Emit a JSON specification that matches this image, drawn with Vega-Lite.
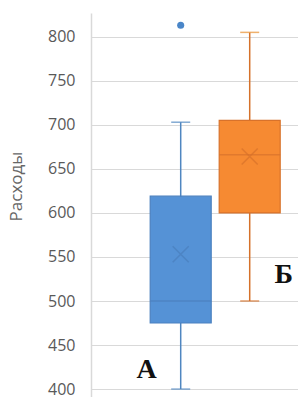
{
  "$schema": "https://vega.github.io/schema/vega-lite/v6.json",
  "autosize": {"type": "none"},
  "padding": {"left": 91, "top": 13, "right": 0, "bottom": 0},
  "width": 207,
  "height": 384,
  "background": "white",
  "config": {"view": {"stroke": null}},
  "datasets": {
    "stats": [
      {"group": "А", "lower": 400, "q1": 475, "median": 500, "q3": 619, "upper": 703, "mean": 553},
      {"group": "Б", "lower": 500, "q1": 600, "median": 666, "q3": 705, "upper": 805, "mean": 664}
    ],
    "outliers": [
      {"group": "А", "value": 813}
    ]
  },
  "data": {"name": "stats"},
  "encoding": {
    "x": {"field": "group", "type": "nominal", "axis": null,
          "scale": {"type": "point", "domain": ["А", "Б"], "padding": 1.045, "align": 0.65}}
  },
  "resolve": {"scale": {"color": "independent"}},
  "layer": [
    {
      "mark": {"type": "rule", "strokeWidth": 1.5},
      "encoding": {
        "y": {"field": "lower", "type": "quantitative",
              "scale": {"domain": [391, 827], "nice": false, "zero": false},
              "axis": {
                "values": [400, 450, 500, 550, 600, 650, 700, 750, 800],
                "ticks": false, "labelPadding": 16,
                "labelFont": "Open Sans", "labelFontSize": 16, "labelColor": "#595959",
                "domainColor": "#d9d9d9", "domainWidth": 1.5,
                "gridColor": "#d9d9d9", "gridWidth": 1.2,
                "title": "Расходы", "titleFont": "Open Sans", "titleFontSize": 17,
                "titleFontWeight": "normal", "titleColor": "#666666",
                "titleAlign": "center", "titleBaseline": "bottom",
                "titleX": -66, "titleY": 173
              }},
        "y2": {"field": "upper"},
        "color": {"field": "group", "type": "nominal", "legend": null,
                  "scale": {"domain": ["А", "Б"], "range": ["#4f86c0", "#d5712a"]}}
      }
    },
    {
      "mark": {"type": "tick", "thickness": 1.5, "size": 19},
      "encoding": {
        "y": {"field": "lower", "type": "quantitative"},
        "color": {"field": "group", "type": "nominal", "legend": null,
                  "scale": {"domain": ["А", "Б"], "range": ["#4f86c0", "#d5712a"]}}
      }
    },
    {
      "mark": {"type": "tick", "thickness": 1.5, "size": 19},
      "encoding": {
        "y": {"field": "upper", "type": "quantitative"},
        "color": {"field": "group", "type": "nominal", "legend": null,
                  "scale": {"domain": ["А", "Б"], "range": ["#4f86c0", "#e8902f"]}}
      }
    },
    {
      "mark": {"type": "bar", "width": 61, "strokeWidth": 1.2},
      "encoding": {
        "y": {"field": "q1", "type": "quantitative"},
        "y2": {"field": "q3"},
        "color": {"field": "group", "type": "nominal", "legend": null,
                  "scale": {"domain": ["А", "Б"], "range": ["#5592d6", "#f68a32"]}},
        "stroke": {"field": "group", "type": "nominal", "legend": null,
                   "scale": {"domain": ["А", "Б"], "range": ["#4a80bf", "#d8722b"]}}
      }
    },
    {
      "mark": {"type": "tick", "thickness": 1.5, "size": 61},
      "encoding": {
        "y": {"field": "median", "type": "quantitative"},
        "color": {"field": "group", "type": "nominal", "legend": null,
                  "scale": {"domain": ["А", "Б"], "range": ["#4a7fbd", "#d8722b"]}}
      }
    },
    {
      "mark": {"type": "point", "shape": "M-1,-1L1,1M1,-1L-1,1", "size": 256, "filled": false, "strokeWidth": 1.5},
      "encoding": {
        "y": {"field": "mean", "type": "quantitative"},
        "color": {"field": "group", "type": "nominal", "legend": null,
                  "scale": {"domain": ["А", "Б"], "range": ["#4a7fbd", "#d8722b"]}}
      }
    },
    {
      "data": {"name": "outliers"},
      "mark": {"type": "point", "shape": "circle", "size": 50, "filled": true, "opacity": 1},
      "encoding": {
        "y": {"field": "value", "type": "quantitative"},
        "color": {"field": "group", "type": "nominal", "legend": null,
                  "scale": {"domain": ["А", "Б"], "range": ["#4a86c8", "#d8722b"]}}
      }
    },
    {
      "transform": [{"filter": "datum.group === 'А'"}],
      "mark": {"type": "text", "font": "Liberation Serif", "fontWeight": "bold", "fontSize": 28,
               "color": "#111111", "align": "center", "baseline": "middle", "dx": -34, "dy": -19},
      "encoding": {
        "y": {"field": "lower", "type": "quantitative"},
        "text": {"field": "group"}
      }
    },
    {
      "transform": [{"filter": "datum.group === 'Б'"}],
      "mark": {"type": "text", "font": "Liberation Serif", "fontWeight": "bold", "fontSize": 28,
               "color": "#111111", "align": "center", "baseline": "middle", "dx": 34, "dy": -26},
      "encoding": {
        "y": {"field": "lower", "type": "quantitative"},
        "text": {"field": "group"}
      }
    }
  ]
}
